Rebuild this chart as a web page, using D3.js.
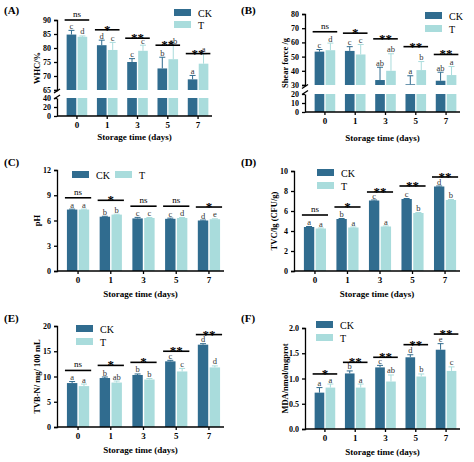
<!DOCTYPE html>
<html><head><meta charset="utf-8">
<script src="https://cdn.jsdelivr.net/npm/d3@7"></script>
<style>body{margin:0;background:#fff}text{font-family:"Liberation Serif",serif}</style>
</head><body><div id="plot"></div>
<script>
const width = 474, height = 462
const days = ['0', '1', '3', '5', '7']
const ckColor = '#306c8f', tColor = '#a9dcdc'

// panel data
const whcCK = [84.8, 81, 75, 72.7, 68.8], whcCKErr = [1.5, 1.8, 1.2, 4, 1.4]
const whcT = [84, 79.3, 79, 76, 74.4], whcTErr = [0.3, 2.7, 2, 5, 3.5]
const whcLetCK = ['c','d','c','b','a'], whcLetT = ['d','c','c','ab','a']
const whcSig = ['ns','*','**','**','**'], whcSigY = [90, 86.5, 83.5, 81, 78]

const shearCK = [53.5, 54, 33.5, 30.5, 33], shearCKErr = [1.5, 3, 9, 6, 6]
const shearT = [54.5, 51.5, 40, 40.5, 37], shearTErr = [5, 7, 12, 6, 6]
const shearLetCK = ['c','c','ab','a','ab'], shearLetT = ['d','c','ab','b','a']
const shearSig = ['ns','*','**','**','**'], shearSigY = [67.5, 66.5, 62.5, 57, 51.5]

const phCK = [7.3, 6.45, 6.25, 6.2, 6.0], phCKErr = [0.05, 0.05, 0.12, 0.08, 0.05]
const phT = [7.3, 6.7, 6.3, 6.3, 6.15], phTErr = [0.05, 0.05, 0.05, 0.05, 0.05]
const phLetCK = ['a','b','c','c','d'], phLetT = ['a','b','c','d','e']
const phSig = ['ns','*','ns','ns','*'], phSigY = [8.7, 8.4, 7.7, 7.7, 7.6]

const tvcCK = [4.4, 5.2, 7.05, 7.2, 8.45], tvcCKErr = [0.05, 0.05, 0.05, 0.05, 0.05]
const tvcT = [4.25, 4.35, 4.45, 5.8, 7.1], tvcTErr = [0.05, 0.05, 0.05, 0.05, 0.05]
const tvcLetCK = ['a','b','c','c','d'], tvcLetT = ['a','a','a','b','b']
const tvcSig = ['ns','*','**','**','**'], tvcSigY = [5.6, 6.4, 7.9, 8.5, 9.4]

const tvbCK = [8.7, 9.7, 10.3, 13, 16.3], tvbCKErr = [0.3, 0.2, 0.2, 0.2, 0.2]
const tvbT = [8.1, 8.8, 9.4, 11, 11.8], tvbTErr = [0.4, 0.3, 0.2, 0.6, 0.3]
const tvbLetCK = ['a','b','b','c','d'], tvbLetT = ['a','ab','b','c','d']
const tvbSig = ['ns','*','*','**','**'], tvbSigY = [11.2, 12.2, 12.8, 15, 18.3]

const mdaCK = [0.72, 1.1, 1.22, 1.42, 1.57], mdaCKErr = [0.1, 0.05, 0.04, 0.05, 0.12]
const mdaT = [0.82, 0.82, 0.94, 1.04, 1.15], mdaTErr = [0.07, 0.07, 0.13, 0.05, 0.08]
const mdaLetCK = ['a','b','c','d','e'], mdaLetT = ['a','a','ab','b','c']
const mdaSig = ['*','**','**','**','**'], mdaSigY = [1.09, 1.32, 1.42, 1.67, 1.88]

const svg = d3.select('div#plot').append('svg')
    .attr('width', width).attr('height', height)

function drawPanel(p) {
    const g = svg.append('g')
    const x = d3.scaleBand().domain(days).range([p.x0 + 6, p.x1]).paddingInner(0.32).paddingOuter(0.12)
    const sub = d3.scaleBand().domain(['CK', 'T']).range([0, x.bandwidth()]).paddingInner(0.12)

    // y segments: main (upper) and optional lower broken part
    const y = d3.scaleLinear().domain(p.domain).range([p.yBase, p.yTop])
    let yLow = null
    if (p.low) yLow = d3.scaleLinear().domain(p.low.domain).range([p.low.y0, p.low.y1])
    const base = p.low ? p.domain[0] : 0

    g.append('text').text(p.label).attr('x', p.lx).attr('y', p.ly)
        .attr('font-size', 11).attr('font-weight', 'bold')

    const series = [['CK', p.ck, p.ckErr, p.letCK, ckColor], ['T', p.t, p.tErr, p.letT, tColor]]
    series.forEach(([k, vals, errs, lets, col]) => {
        days.forEach((d, i) => {
            const bx = x(d) + sub(k), bw = sub.bandwidth()
            g.append('rect').attr('x', bx).attr('width', bw)
                .attr('y', y(vals[i])).attr('height', y(base) - y(vals[i])).attr('fill', col)
            if (yLow) g.append('rect').attr('x', bx).attr('width', bw)
                .attr('y', yLow(p.low.domain[1])).attr('height', yLow(0) - yLow(p.low.domain[1])).attr('fill', col)
            const ye = y(vals[i] + errs[i]), cx = bx + bw / 2
            g.append('line').attr('x1', cx).attr('x2', cx).attr('y1', y(vals[i])).attr('y2', ye)
                .attr('stroke', col).attr('stroke-width', 1)
            g.append('line').attr('x1', cx - 3).attr('x2', cx + 3).attr('y1', ye).attr('y2', ye)
                .attr('stroke', col).attr('stroke-width', 1)
            g.append('text').text(lets[i]).attr('x', cx).attr('y', ye - 1.5)
                .attr('text-anchor', 'middle').attr('font-size', 8.5).attr('fill', '#333')
        })
    })

    // significance marks
    days.forEach((d, i) => {
        const sy = y(p.sigY[i]), ns = p.sig[i] === 'ns'
        g.append('line').attr('x1', x(d) - 2).attr('x2', x(d) + x.bandwidth() + 2)
            .attr('y1', sy).attr('y2', sy).attr('stroke', '#000').attr('stroke-width', 1.6)
        g.append('text').text(p.sig[i]).attr('x', x(d) + x.bandwidth() / 2)
            .attr('y', ns ? sy - 3 : sy + 4)
            .attr('text-anchor', 'middle').attr('font-size', ns ? 9 : 13)
            .attr('font-weight', ns ? 'normal' : 'bold')
    })

    // axes
    const styleAxis = a => a.call(s => s.selectAll('text').attr('font-size', 8).attr('font-weight', 'bold')
        .attr('font-family', '"Liberation Serif",serif'))
        .call(s => s.selectAll('path,line').attr('stroke-width', 1.3))
    const yAx = d3.axisLeft(y).tickValues(p.ticks).tickSize(3).tickFormat(p.fmt || d3.format('d'))
    g.append('g').attr('transform', `translate(${p.x0},0)`).call(yAx).call(styleAxis)
    if (yLow) {
        g.append('g').attr('transform', `translate(${p.x0},0)`)
            .call(d3.axisLeft(yLow).tickValues(p.low.ticks).tickSize(3).tickSizeOuter(0)).call(styleAxis)
        const mid = (p.yBase + p.low.y1) / 2
        ;[-3, 3].forEach(o => g.append('line').attr('x1', p.x0 - 3).attr('x2', p.x0 + 3)
            .attr('y1', mid + o + 2).attr('y2', mid + o - 2).attr('stroke', '#000').attr('stroke-width', 1.3))
    }
    const xBottom = yLow ? yLow(0) : y(0)
    g.append('g').attr('transform', `translate(0,${xBottom})`)
        .call(d3.axisBottom(x).tickSize(3).tickSizeOuter(0)).call(styleAxis)
        .call(s => s.select('.domain').attr('d', `M${p.x0},0H${p.x1}`))
        .call(s => s.selectAll('text').attr('font-size', 9))

    g.append('text').text('Storage time (days)').attr('x', (p.x0 + p.x1) / 2).attr('y', p.xty)
        .attr('text-anchor', 'middle').attr('font-size', 9).attr('font-weight', 'bold')
    const midY = (p.yTop + xBottom) / 2
    g.append('text').text(p.ytitle).attr('transform', `translate(${p.x0 - 17},${midY}) rotate(-90)`)
        .attr('text-anchor', 'middle').attr('font-size', 8.5).attr('font-weight', 'bold')

    // legend
    p.legend.forEach((l, i) => {
        const lx = l[0], ly = l[1]
        g.append('rect').attr('x', lx).attr('y', ly - 4).attr('width', 17).attr('height', 7)
            .attr('fill', i === 0 ? ckColor : tColor)
        g.append('text').text(i === 0 ? 'CK' : 'T').attr('x', lx + 24).attr('y', ly + 3.5).attr('font-size', 10)
    })
}

drawPanel({label: '(A)', lx: 4, ly: 14, x0: 57, x1: 212, yTop: 20, yBase: 90, domain: [65, 90], ticks: [65, 70, 75, 80, 85, 90],
    low: {domain: [0, 40], y0: 116, y1: 98, ticks: [0, 20, 40]},
    ck: whcCK, ckErr: whcCKErr, t: whcT, tErr: whcTErr, letCK: whcLetCK, letT: whcLetT, sig: whcSig, sigY: whcSigY,
    ytitle: 'WHC/%', xty: 140, legend: [[174, 13], [174, 25]]})

drawPanel({label: '(B)', lx: 241, ly: 14, x0: 305, x1: 460, yTop: 14, yBase: 85, domain: [30, 80], ticks: [30, 40, 50, 60, 70, 80],
    low: {domain: [0, 20], y0: 112, y1: 94, ticks: [0, 10, 20]},
    ck: shearCK, ckErr: shearCKErr, t: shearT, tErr: shearTErr, letCK: shearLetCK, letT: shearLetT, sig: shearSig, sigY: shearSigY,
    ytitle: 'Shear force /g', xty: 141, legend: [[425, 16], [425, 29]]})

drawPanel({label: '(C)', lx: 4, ly: 166, x0: 57, x1: 224, yTop: 170, yBase: 271, domain: [0, 12], ticks: [0, 3, 6, 9, 12],
    ck: phCK, ckErr: phCKErr, t: phT, tErr: phTErr, letCK: phLetCK, letT: phLetT, sig: phSig, sigY: phSigY,
    ytitle: 'pH', xty: 297, legend: [[72, 175], [115, 175]]})

drawPanel({label: '(D)', lx: 241, ly: 166, x0: 294, x1: 460, yTop: 171, yBase: 271, domain: [0, 10], ticks: [0, 2, 4, 6, 8, 10],
    ck: tvcCK, ckErr: tvcCKErr, t: tvcT, tErr: tvcTErr, letCK: tvcLetCK, letT: tvcLetT, sig: tvcSig, sigY: tvcSigY,
    ytitle: 'TVC/lg (CFU/g)', xty: 297, legend: [[317, 173], [317, 186]]})

drawPanel({label: '(E)', lx: 4, ly: 322, x0: 57, x1: 224, yTop: 326, yBase: 427, domain: [0, 20], ticks: [0, 5, 10, 15, 20],
    ck: tvbCK, ckErr: tvbCKErr, t: tvbT, tErr: tvbTErr, letCK: tvbLetCK, letT: tvbLetT, sig: tvbSig, sigY: tvbSigY,
    ytitle: 'TVB-N/ mg/ 100 mL', xty: 453, legend: [[76, 329], [76, 342]]})

drawPanel({label: '(F)', lx: 241, ly: 322, x0: 305, x1: 460, yTop: 328, yBase: 429, domain: [0, 2], ticks: [0, 0.5, 1, 1.5, 2],
    fmt: d3.format('.1f'),
    ck: mdaCK, ckErr: mdaCKErr, t: mdaT, tErr: mdaTErr, letCK: mdaLetCK, letT: mdaLetT, sig: mdaSig, sigY: mdaSigY,
    ytitle: 'MDA/nmol/mgprot', xty: 455, legend: [[316, 325], [316, 338]]})
</script></body></html>
